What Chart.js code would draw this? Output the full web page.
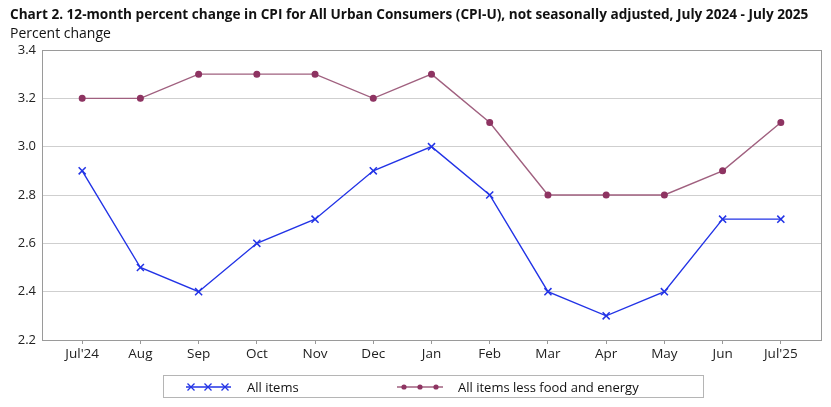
<!DOCTYPE html>
<html>
<head>
<meta charset="utf-8">
<script src="https://cdn.jsdelivr.net/npm/chart.js@4"></script>
<style>
  html, body { margin: 0; padding: 0; background: #fff; }
  #wrap { width: 831px; height: 407px; position: relative; }
</style>
</head>
<body>
<div id="wrap"><canvas id="myChart" width="831" height="407"></canvas></div>
<script>
const months = ["Jul'24", "Aug", "Sep", "Oct", "Nov", "Dec", "Jan", "Feb", "Mar", "Apr", "May", "Jun", "Jul'25"];
const allItems = [2.9, 2.5, 2.4, 2.6, 2.7, 2.9, 3.0, 2.8, 2.4, 2.3, 2.4, 2.7, 2.7];
const coreItems = [3.2, 3.2, 3.3, 3.3, 3.3, 3.2, 3.3, 3.1, 2.8, 2.8, 2.8, 2.9, 3.1];
const yTicks = [2.2, 2.4, 2.6, 2.8, 3.0, 3.2, 3.4];

const titleText = "Chart 2. 12-month percent change in CPI for All Urban Consumers (CPI-U), not seasonally adjusted, July 2024 - July 2025";
const fontFam = "'Open Sans', 'Noto Sans', sans-serif";
const blue = '#2233e6';
const maroon = '#8e3462';
const maroonLine = '#a0607f';

// title, border box, legend
const extras = {
    id: 'extras',
    afterDraw(chart) {
        const c = chart.ctx;
        const a = chart.chartArea;
        c.save();
        c.strokeStyle = '#9a9a9a';
        c.lineWidth = 1;
        c.strokeRect(Math.round(a.left) + 0.5, Math.round(a.top) + 0.5, Math.round(a.right - a.left), Math.round(a.bottom - a.top));

        c.fillStyle = '#111';
        c.textBaseline = 'alphabetic';
        c.textAlign = 'left';
        c.font = "bold 13.6px " + fontFam;
        c.fillText(titleText, 10, 19);
        c.font = "14px " + fontFam;
        c.fillText("Percent change", 10, 38);

        // legend box
        c.strokeStyle = '#b5b5b5';
        c.strokeRect(163.5, 375.5, 540, 22);
        c.font = "13px " + fontFam;
        c.textBaseline = 'middle';
        c.fillStyle = '#111';

        c.strokeStyle = blue;
        c.lineWidth = 1.3;
        c.beginPath(); c.moveTo(186, 387); c.lineTo(231, 387); c.stroke();
        [191, 208, 225].forEach(x => {
            c.beginPath();
            c.moveTo(x - 3.5, 383.5); c.lineTo(x + 3.5, 390.5);
            c.moveTo(x + 3.5, 383.5); c.lineTo(x - 3.5, 390.5);
            c.stroke();
        });
        c.fillText("All items", 247, 388);

        c.strokeStyle = maroonLine;
        c.beginPath(); c.moveTo(397, 387); c.lineTo(443, 387); c.stroke();
        c.fillStyle = maroon;
        [404, 420, 436].forEach(x => {
            c.beginPath(); c.arc(x, 387, 2.6, 0, Math.PI * 2); c.fill();
        });
        c.fillStyle = '#111';
        c.fillText("All items less food and energy", 458, 388);
        c.restore();
    }
};

const ctx = document.getElementById("myChart");
new Chart(ctx, {
    type: 'line',
    data: {
        datasets: [{
            label: 'All items',
            data: allItems.map((v, i) => ({ x: i, y: v })),
            borderColor: blue,
            borderWidth: 1.4,
            pointStyle: 'crossRot',
            pointRadius: 5,
            pointBorderColor: blue,
            pointBorderWidth: 1.5,
            fill: false,
            tension: 0
        }, {
            label: 'All items less food and energy',
            data: coreItems.map((v, i) => ({ x: i, y: v })),
            borderColor: maroonLine,
            borderWidth: 1.4,
            pointStyle: 'circle',
            pointRadius: 2.8,
            pointBackgroundColor: maroon,
            pointBorderColor: maroon,
            fill: false,
            tension: 0
        }]
    },
    options: {
        responsive: false,
        animation: false,
        layout: { padding: { top: 50, right: 10, bottom: 42, left: 0 } },
        scales: {
            x: {
                type: 'linear',
                min: -0.69,
                max: 12.69,
                afterBuildTicks: s => { s.ticks = months.map((m, i) => ({ value: i })); },
                afterFit: s => { s.height = 25; },
                grid: { drawOnChartArea: false, drawTicks: true, tickLength: 4, color: '#999' },
                border: { color: '#999' },
                ticks: {
                    callback: (v) => months[v],
                    color: '#222',
                    font: { family: fontFam, size: 13.5 },
                    padding: 2,
                    maxRotation: 0,
                    autoSkip: false
                }
            },
            y: {
                min: 2.2,
                max: 3.4,
                afterBuildTicks: s => { s.ticks = yTicks.map(v => ({ value: v })); },
                afterFit: s => { s.width = 42; },
                grid: { color: '#cfcfcf', drawTicks: false },
                border: { color: '#999' },
                ticks: {
                    callback: v => v.toFixed(1),
                    color: '#222',
                    font: { family: fontFam, size: 13 },
                    padding: 6
                }
            }
        },
        plugins: {
            legend: { display: false },
            tooltip: { enabled: false }
        }
    },
    plugins: [extras]
});
</script>
</body>
</html>
